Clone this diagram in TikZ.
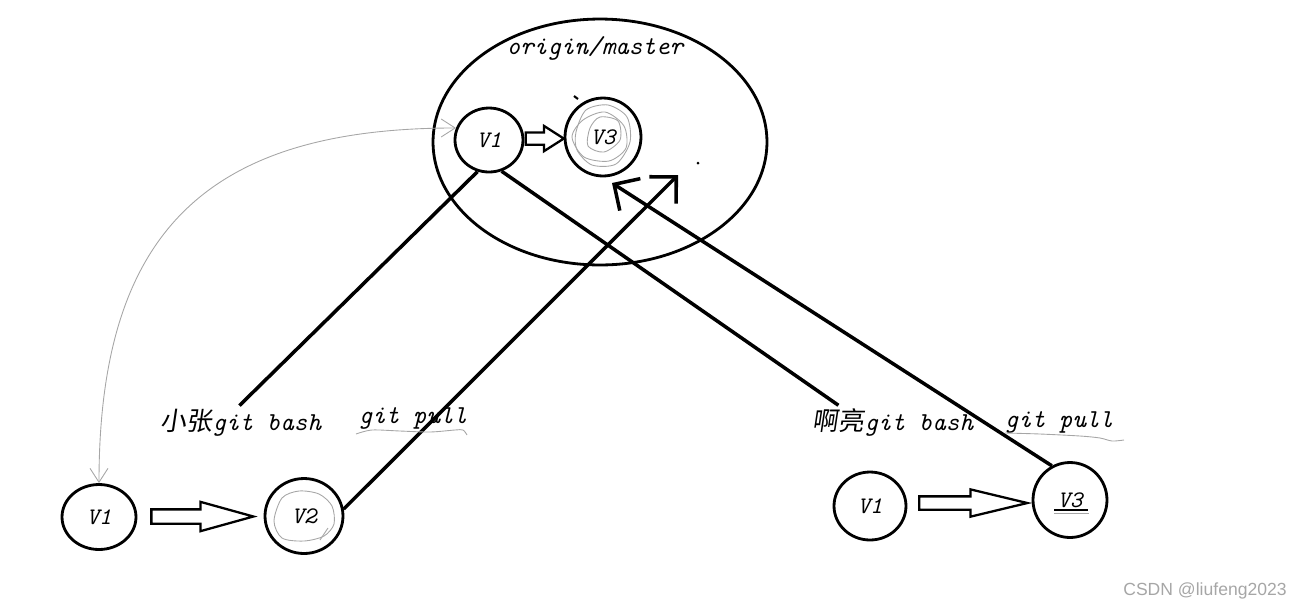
\documentclass[tikz,border=0pt]{standalone}
\usepackage{fontspec}
\setsansfont{Liberation Sans}
\newfontfamily\cjk[FakeSlant=0.15]{Noto Sans CJK SC}
\usetikzlibrary{arrows.meta, shapes.geometric, shapes.arrows}

\begin{document}
\begin{tikzpicture}[
    x=0.02cm, y=-0.02cm,
    font=\fontsize{14.7}{17}\selectfont\ttfamily\itshape,
    ver/.style={draw, ellipse, line width=1.6pt, inner sep=0pt, font=\fontsize{13.5}{15}\selectfont\ttfamily\itshape},
    lbl/.style={inner sep=2pt},
    hollow/.style={draw, single arrow, line width=1.3pt, inner xsep=0pt, fill=white},
    link/.style={line width=2pt},
    pullarr/.style={line width=2pt, -{Straight Barb[length=0.38cm, width=0.76cm]}},
    syncarr/.style={gray!70, line width=0.5pt, {Straight Barb[length=0.28cm, width=0.36cm]}-{Straight Barb[length=0.28cm, width=0.36cm]}},
    scrib/.style={gray!70, line width=0.5pt},
]
\useasboundingbox (0,0) rectangle (1296,610);

% --- depot distant ---
\node[draw, ellipse, line width=1.6pt, minimum width=6.68cm, minimum height=4.92cm] (remote) at (600,142) {};
\node[lbl] (origin) at (595,48) {origin/master};
\node[ver, minimum width=1.36cm, minimum height=1.28cm] (v1o) at (489,140) {V1};
\node[ver, minimum width=1.52cm, minimum height=1.56cm] (v3o) at (603,137) {V3};
\path (v1o) -- node[hollow, xshift=-0.08cm, minimum height=0.76cm, inner ysep=0.1cm, single arrow head extend=0.13cm, single arrow tip angle=65] (pushO) {} (v3o);

% --- poste de gauche ---
\node[ver, minimum width=1.48cm, minimum height=1.3cm] (v1l) at (99,517) {V1};
\node[ver, minimum width=1.56cm, minimum height=1.5cm] (v2l) at (304,516) {V2};
\path (v1l) -- node[hollow, xshift=-0.22cm, minimum height=2.04cm, inner ysep=0.12cm, single arrow head extend=0.15cm, single arrow tip angle=31] (pushL) {} (v2l);
\node[lbl] (lz) at (241,423) {{\cjk 小张}git bash};
\node[lbl] (pullL) at (413,418) {git pull};

% --- poste de droite ---
\node[ver, minimum width=1.44cm, minimum height=1.36cm] (v1r) at (870,506) {V1};
\node[ver, minimum width=1.48cm, minimum height=1.5cm] (v3r) at (1070,500) {V3};
\path (v1r) -- node[hollow, xshift=-0.2cm, minimum height=2.16cm, inner ysep=0.11cm, single arrow head extend=0.14cm, single arrow tip angle=27] (pushR) {} (v3r);
\node[lbl] (la) at (893,423) {{\cjk 啊亮}git bash};
\node[lbl] (pullR) at (1059,422) {git pull};

% --- liens ---
\coordinate (tipL) at (678,175);
\coordinate (tipR) at (612,183);
\draw[link] (v1o.-110) -- (lz.95);
\draw[link] (v1o.-68) -- (la.162);
\draw[pullarr] (v2l.10) -- (tipL);
\draw[pullarr] (v3r.118) -- (tipR);
\draw[syncarr] (v1o.160) .. controls +(-250,0) and +(0,-250) .. (v1l.north);

% --- gribouillis ---
\draw[scrib] plot[smooth cycle] coordinates {(576,132) (586,110) (608,105) (627,117) (630,142) (616,164) (592,165) (577,150)};
\draw[scrib] plot[smooth cycle] coordinates {(583,120) (605,112) (624,126) (626,148) (609,161) (584,157) (572,137)};
\draw[scrib] plot[smooth cycle] coordinates {(590,128) (600,117) (618,121) (620,140) (604,152) (588,146)};
\draw[scrib] plot[smooth cycle] coordinates {(282,498) (299,491) (319,494) (332,506) (334,524) (324,536) (304,541) (282,538) (274,521)};
\draw[scrib] (320,540) -- (328,528);
\draw[scrib] plot[smooth] coordinates {(356,434) (372,430) (400,431) (430,432) (455,430) (463,430) (467,435)};
\draw[scrib] plot[smooth] coordinates {(1005,433) (1040,434) (1080,436) (1100,438) (1112,441) (1124,440)};
\draw[line width=0.8pt] (1054,510) -- (1088,510);
\draw[scrib] (1054,513) -- (1089,513);
\draw[line width=1.2pt] (574,96) -- (578,99);
\fill (698,163) circle (1.5);

\node[font=\sffamily\fontsize{10}{12}\selectfont, text=gray!70] (mark) at (1205,591) {CSDN @liufeng2023};
\end{tikzpicture}
\end{document}
